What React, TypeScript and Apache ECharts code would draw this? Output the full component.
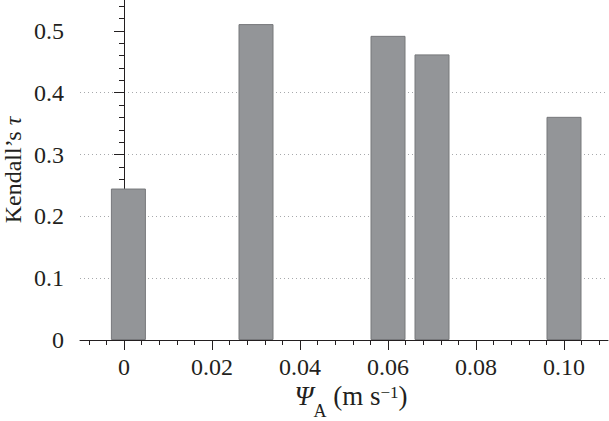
import React, { useEffect, useRef } from "react";
import * as echarts from "echarts";

const psiA = [0.001, 0.03, 0.06, 0.07, 0.1];
const kendallTau = [0.245, 0.511, 0.492, 0.462, 0.361];

const xMajorTicks = [0, 0.02, 0.04, 0.06, 0.08, 0.1];
const xMinorTicks = [
  -0.008, -0.004, 0.004, 0.008, 0.012, 0.016, 0.024, 0.028, 0.032, 0.036,
  0.044, 0.048, 0.052, 0.056, 0.064, 0.068, 0.072, 0.076, 0.084, 0.088,
  0.092, 0.096, 0.104, 0.108,
];
const yMajorTicks = [0, 0.1, 0.2, 0.3, 0.4, 0.5];
const yMinorTicks = [
  0.02, 0.04, 0.06, 0.08, 0.12, 0.14, 0.16, 0.18, 0.22, 0.24, 0.26, 0.28,
  0.32, 0.34, 0.36, 0.38, 0.42, 0.44, 0.46, 0.48, 0.52, 0.54,
];

const FONT = "Liberation Serif";
const INK = "#231f20";

export default function App() {
  const ref = useRef<HTMLDivElement>(null);
  useEffect(() => {
    if (!ref.current) return;
    const chart = echarts.init(ref.current, null, { renderer: "svg" });
    const gridBox = { left: 80, right: 1, top: 0, bottom: 81 };
    chart.setOption({
      animation: false,
      grid: [
        { ...gridBox, containLabel: false },
        { ...gridBox, containLabel: false },
      ],
      xAxis: [
        {
          type: "value",
          gridIndex: 0,
          min: -0.01,
          max: 0.11,
          axisLine: { show: true, onZero: false, lineStyle: { color: INK, width: 1 } },
          axisTick: { show: true, customValues: xMajorTicks, length: 10, lineStyle: { color: INK } },
          axisLabel: {
            customValues: xMajorTicks,
            formatter: (v: number) => (v === 0 ? "0" : v.toFixed(2)),
            fontFamily: FONT,
            fontSize: 24,
            color: INK,
            margin: 15,
          },
          splitLine: { show: false },
        },
        {
          type: "value",
          gridIndex: 1,
          min: -0.01,
          max: 0.11,
          axisLine: { show: false, onZero: false },
          axisTick: { show: true, customValues: xMinorTicks, length: 5, lineStyle: { color: INK } },
          axisLabel: { show: false },
          splitLine: { show: false },
        },
      ],
      yAxis: [
        {
          type: "value",
          gridIndex: 0,
          min: 0,
          max: 0.55,
          interval: 0.1,
          axisLine: { show: true, lineStyle: { color: INK, width: 1 } },
          axisTick: { show: true, customValues: yMajorTicks, length: 10, lineStyle: { color: INK } },
          axisLabel: {
            customValues: yMajorTicks,
            formatter: (v: number) => (v === 0 ? "0" : v.toFixed(1)),
            fontFamily: FONT,
            fontSize: 24,
            color: INK,
            margin: 16,
          },
          splitLine: {
            show: true,
            showMinLine: false,
            showMaxLine: false,
            lineStyle: { color: "#a7a9ac", width: 1, type: [1, 3] },
          },
        },
        {
          type: "value",
          gridIndex: 1,
          min: 0,
          max: 0.55,
          interval: 0.1,
          axisLine: { show: false },
          axisTick: { show: true, customValues: yMinorTicks, length: 5, lineStyle: { color: INK } },
          axisLabel: { show: false },
          splitLine: { show: false },
        },
      ],
      series: [
        {
          type: "bar",
          xAxisIndex: 0,
          yAxisIndex: 0,
          barWidth: 35,
          data: psiA.map((x, i) => [x, kendallTau[i]]),
          itemStyle: { color: "#939598", borderColor: "#77787b", borderWidth: 1 },
        },
      ],
      graphic: [
        {
          type: "text",
          x: 13,
          y: 170,
          rotation: Math.PI / 2,
          style: {
            text: "Kendall’s {i|τ}",
            fontFamily: FONT,
            fontSize: 24,
            fill: INK,
            align: "center",
            verticalAlign: "middle",
            rich: {
              i: { fontFamily: FONT, fontSize: 24, fontStyle: "italic", fill: INK },
            },
          },
        },
        {
          type: "text",
          x: 351,
          y: 396,
          style: {
            text: "{i|Ψ}{sub|A}{n| (m s}{sup|−1}{n|)}",
            fontFamily: FONT,
            fontSize: 27,
            fill: INK,
            align: "center",
            verticalAlign: "middle",
            rich: {
              i: { fontFamily: FONT, fontSize: 27, fontStyle: "italic", fill: INK, lineHeight: 48 },
              n: { fontFamily: FONT, fontSize: 27, fill: INK, lineHeight: 48 },
              sub: { fontFamily: FONT, fontSize: 18, fill: INK, lineHeight: 18, verticalAlign: "bottom" },
              sup: { fontFamily: FONT, fontSize: 17, fill: INK, lineHeight: 17, verticalAlign: "top", padding: [12, 0, 0, 0] },
            },
          },
        },
      ],
    });
    return () => chart.dispose();
  }, []);
  return (
    <div
      ref={ref}
      style={{ position: "absolute", left: 0, top: 0, width: 609, height: 421 }}
    />
  );
}
